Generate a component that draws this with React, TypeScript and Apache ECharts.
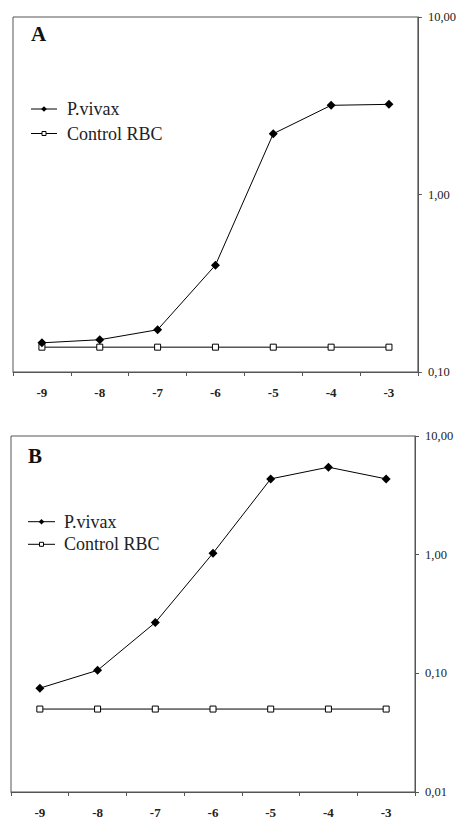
import React, { useEffect, useRef } from "react";
import * as echarts from "echarts";

const categories = ["-9", "-8", "-7", "-6", "-5", "-4", "-3"];
const vivaxA = [0.146, 0.152, 0.173, 0.4, 2.2, 3.18, 3.22];
const controlA = [0.138, 0.138, 0.138, 0.138, 0.138, 0.138, 0.138];
const vivaxB = [0.075, 0.106, 0.268, 1.03, 4.35, 5.46, 4.35];
const controlB = [0.05, 0.05, 0.05, 0.05, 0.05, 0.05, 0.05];
const seriesNames = ["P.vivax", "Control RBC"];
const panelNames = ["A", "B"];
const yRangeA = [0.1, 10];
const yRangeB = [0.01, 10];

const FONT = "Liberation Serif";
const AXIS_COLOR = "#555";
const TEXT_COLOR = "#222";

function xAxis(gridIndex: number) {
  return {
    type: "category",
    gridIndex,
    data: categories,
    boundaryGap: true,
    axisLine: { show: true, lineStyle: { color: AXIS_COLOR, width: 1 } },
    axisTick: { show: true, length: 4, inside: false, lineStyle: { color: AXIS_COLOR } },
    axisLabel: { color: TEXT_COLOR, fontFamily: FONT, fontSize: 13, margin: 14, fontWeight: "bold" },
    splitLine: { show: false },
  };
}

function yAxis(gridIndex: number, range: number[]) {
  return {
    type: "log",
    logBase: 10,
    gridIndex,
    position: "right",
    min: range[0],
    max: range[1],
    axisLine: { show: true, lineStyle: { color: AXIS_COLOR, width: 1 } },
    axisTick: { show: true, length: 4, inside: false, lineStyle: { color: AXIS_COLOR } },
    axisLabel: {
      color: TEXT_COLOR,
      fontFamily: FONT,
      fontSize: 12.5,
      margin: 10,
      formatter: (v: number) => v.toFixed(2).replace(".", ","),
    },
    splitLine: { show: false },
    minorTick: { show: false },
  };
}

function vivaxSeries(idx: number, data: number[]) {
  return {
    type: "line",
    name: seriesNames[0],
    xAxisIndex: idx,
    yAxisIndex: idx,
    data,
    symbol: "diamond",
    symbolSize: 9,
    lineStyle: { color: "#000", width: 1 },
    itemStyle: { color: "#000" },
  };
}

function controlSeries(idx: number, data: number[]) {
  return {
    type: "line",
    name: seriesNames[1],
    xAxisIndex: idx,
    yAxisIndex: idx,
    data,
    symbol: "rect",
    symbolSize: 6,
    lineStyle: { color: "#000", width: 1 },
    itemStyle: { color: "#fff", borderColor: "#000", borderWidth: 1 },
  };
}

function legendGraphics(x0: number, x1: number, tx: number, y1: number, y2: number) {
  const cx = (x0 + x1) / 2;
  return [
    { type: "line", shape: { x1: x0, y1, x2: x1, y2: y1 }, style: { stroke: "#000", lineWidth: 1 } },
    {
      type: "polygon",
      shape: { points: [[cx, y1 - 2.8], [cx + 2.8, y1], [cx, y1 + 2.8], [cx - 2.8, y1]] },
      style: { fill: "#000" },
    },
    {
      type: "text",
      x: tx,
      y: y1,
      style: { text: seriesNames[0], fontFamily: FONT, fontSize: 18, fill: TEXT_COLOR, verticalAlign: "middle" },
    },
    { type: "line", shape: { x1: x0, y1: y2, x2: x1, y2 }, style: { stroke: "#000", lineWidth: 1 } },
    {
      type: "rect",
      shape: { x: cx - 2, y: y2 - 2, width: 4, height: 4 },
      style: { fill: "#fff", stroke: "#000", lineWidth: 1 },
      z: 10,
    },
    {
      type: "text",
      x: tx,
      y: y2,
      style: { text: seriesNames[1], fontFamily: FONT, fontSize: 18, fill: TEXT_COLOR, verticalAlign: "middle" },
    },
  ];
}

export default function App() {
  const ref = useRef<HTMLDivElement>(null);
  useEffect(() => {
    if (!ref.current) return;
    const chart = echarts.init(ref.current, null, { renderer: "svg" });
    chart.setOption({
      animation: false,
      backgroundColor: "#fff",
      textStyle: { fontFamily: FONT },
      grid: [
        { left: 13, top: 17, width: 405, height: 355, show: true, borderColor: AXIS_COLOR, borderWidth: 1 },
        { left: 11, top: 436, width: 404, height: 356, show: true, borderColor: AXIS_COLOR, borderWidth: 1 },
      ],
      xAxis: [xAxis(0), xAxis(1)],
      yAxis: [yAxis(0, yRangeA), yAxis(1, yRangeB)],
      series: [
        controlSeries(0, controlA),
        vivaxSeries(0, vivaxA),
        controlSeries(1, controlB),
        vivaxSeries(1, vivaxB),
      ],
      graphic: [
        {
          type: "text",
          x: 31,
          y: 34,
          style: { text: panelNames[0], fontFamily: FONT, fontSize: 21, fontWeight: "bold", fill: "#111", verticalAlign: "middle" },
        },
        {
          type: "text",
          x: 28,
          y: 456,
          style: { text: panelNames[1], fontFamily: FONT, fontSize: 21, fontWeight: "bold", fill: "#111", verticalAlign: "middle" },
        },
        ...legendGraphics(31, 57, 67, 109, 133.5),
        ...legendGraphics(28, 55, 64, 521.7, 544.3),
      ],
    });
    return () => chart.dispose();
  }, []);
  return (
    <div
      ref={ref}
      style={{ position: "fixed", left: 0, top: 0, width: 459, height: 819, background: "#fff" }}
    />
  );
}
